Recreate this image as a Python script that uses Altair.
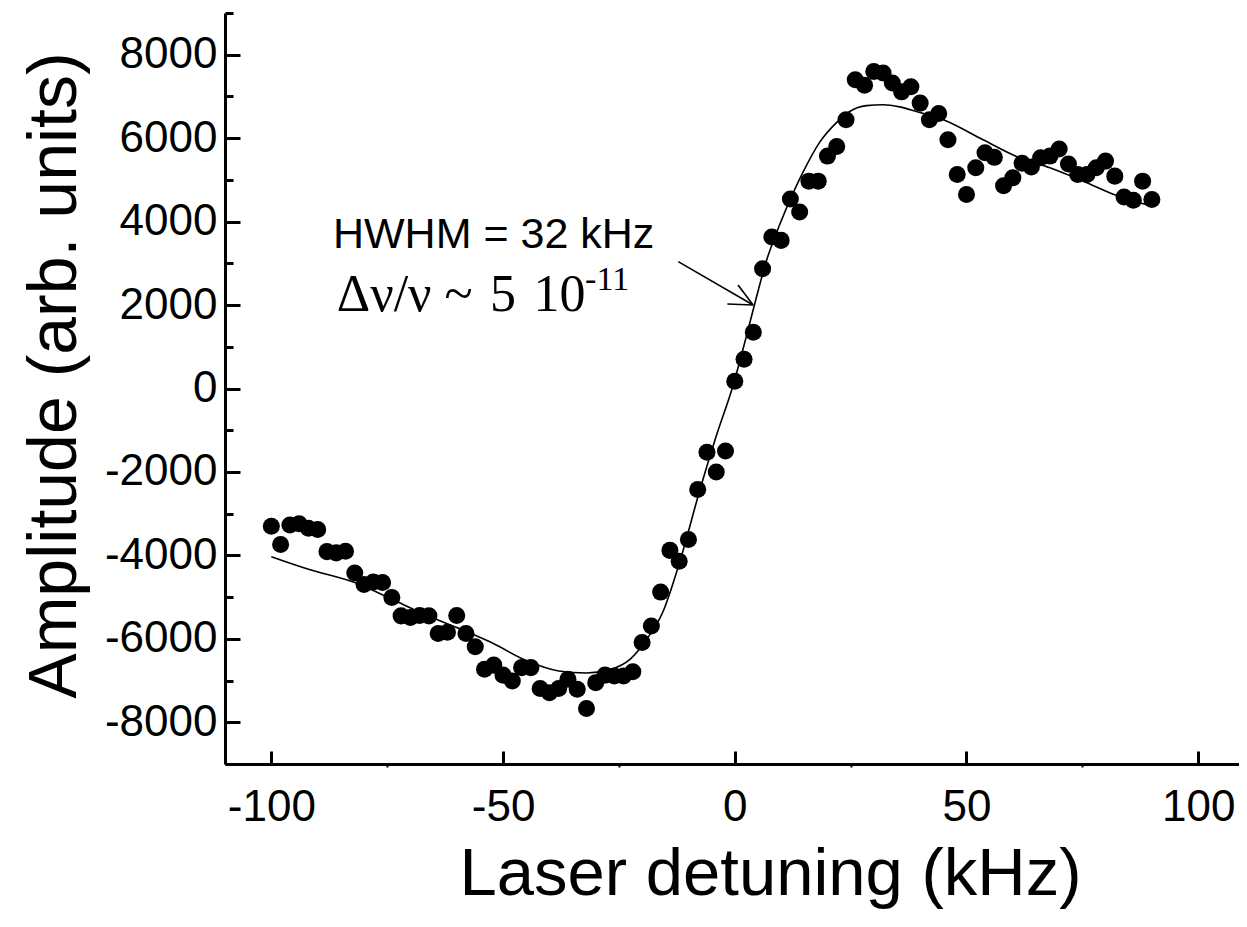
import altair as alt
import pandas as pd

# ---------------- data ----------------
detuning = [-100, -98, -96, -94, -92, -90, -88, -86, -84, -82,
            -80, -78, -76, -74, -72, -70, -68, -66, -64, -62,
            -60, -58, -56, -54, -52, -50, -48, -46, -44, -42,
            -40, -38, -36, -34, -32, -30, -28, -26, -24, -22,
            -20, -18, -16, -14, -12, -10, -8, -6, -4, -2,
            0, 2, 4, 6, 8, 10, 12, 14, 16, 18,
            20, 22, 24, 26, 28, 30, 32, 34, 36, 38,
            40, 42, 44, 46, 48, 50, 52, 54, 56, 58,
            60, 62, 64, 66, 68, 70, 72, 74, 76, 78,
            80, 82, 84, 86, 88, 90]
amplitude = [-3300, -3740, -3270, -3240, -3350, -3380, -3910, -3940, -3900, -4420,
             -4700, -4640, -4650, -5010, -5450, -5490, -5440, -5450, -5870, -5840,
             -5440, -5870, -6190, -6730, -6630, -6870, -7010, -6690, -6690, -7190,
             -7290, -7190, -6970, -7210, -7670, -7050, -6870, -6890, -6890, -6790,
             -6090, -5690, -4880, -3880, -4140, -3620, -2420, -1530, -2000, -1500,
             175, 700, 1350, 2870, 3630, 3550, 4540, 4230, 4970, 4970,
             5570, 5800, 6440, 7400, 7270, 7600, 7560, 7320, 7110, 7230,
             6840, 6440, 6590, 5960, 5130, 4650, 5290, 5650, 5540, 4860,
             5050, 5400, 5310, 5530, 5570, 5740, 5380, 5130, 5130, 5290,
             5450, 5090, 4590, 4510, 4970, 4530]

fit_x = [-100, -92, -82, -74, -67, -60, -52.5, -45, -38, -32, -27, -22.5,
         -19, -15.5, -12, -7.5, -4, -0.4, 2.5, 4.7, 6.8, 9.7, 12.6, 14.7,
         18.3, 22, 24.8, 28.4, 32, 35.6, 39.2, 45, 53.6, 60.8, 68, 75.2, 82.3, 90]
fit_y = [-4030, -4330, -4650, -5050, -5410, -5730, -6090, -6520, -6770, -6820, -6740, -6480,
         -6010, -5350, -4200, -2420, -1140, 60, 1250, 2200, 3050, 3930, 4690, 5180,
         5900, 6380, 6640, 6780, 6800, 6750, 6640, 6440, 5960, 5560, 5290, 4970, 4630, 4370]

x_major = [-100, -50, 0, 50, 100]
x_minor = [-75, -25, 25, 75]
y_major = [-8000, -6000, -4000, -2000, 0, 2000, 4000, 6000, 8000]
y_minor = [-9000, -7000, -5000, -3000, -1000, 1000, 3000, 5000, 7000, 9000]

# annotation text and arrow (data coordinates)
label_text = ["HWHM = 32 kHz", "\u0394\u03bd/\u03bd ~\u20045\u200410", "-11"]
label_x = [-86.7, -85.9, -32.3]
label_y = [3367, 1860, 2361]
arrow_x = [-12.2, 3.95, 3.95]
arrow_y = [3040, 2000, 2000]
arrow_x2 = [3.95, 0.7, -1.6]
arrow_y2 = [2000, 2480, 2025]

# ---------------- chart ----------------
W, H = 1014, 751
SANS = "Liberation Sans"
SERIF = "Liberation Serif"
xs = alt.Scale(domain=[-110, 108.8], nice=False, zero=False)
ys = alt.Scale(domain=[-9000, 9000], nice=False, zero=False)

fit_df = pd.DataFrame({"cx": fit_x, "cy": fit_y})
pts_df = pd.DataFrame({"px": detuning, "py": amplitude})
arr_df = pd.DataFrame({"ax": arrow_x, "ay": arrow_y, "ax2": arrow_x2, "ay2": arrow_y2})
lab_df = pd.DataFrame({"lx": label_x, "ly": label_y, "txt": label_text})

curve = alt.Chart(fit_df).mark_line(color="black", strokeWidth=1.6, interpolate="monotone").encode(
    x=alt.X("cx:Q", scale=xs, axis=alt.Axis(
        orient="bottom", values=x_major, ticks=False, grid=False,
        labelExpr="'' + datum.value", labelFont=SANS, labelFontSize=44, labelColor="black",
        labelPadding=21, labelFlush=False, labelOverlap=False,
        domainColor="black", domainWidth=3,
        title="Laser detuning (kHz)", titleFont=SANS, titleFontSize=67, titleFontWeight="normal",
        titleColor="black", titleX=545, titleY=130, titleAlign="center", titleBaseline="alphabetic")),
    y=alt.Y("cy:Q", scale=ys, axis=alt.Axis(
        orient="left", values=y_major, ticks=False, grid=False,
        labelExpr="'' + datum.value", labelFont=SANS, labelFontSize=44, labelColor="black",
        labelPadding=8, labelFlush=False, labelOverlap=False,
        domainColor="black", domainWidth=3,
        title="Amplitude (arb. units)", titleFont=SANS, titleFontSize=68, titleFontWeight="normal",
        titleColor="black", titleX=-150, titleY=362, titleAngle=270, titleAlign="center",
        titleBaseline="alphabetic")),
)

points = alt.Chart(pts_df).mark_circle(size=290, color="black", opacity=1).encode(
    x=alt.X("px:Q", scale=xs, axis=alt.Axis(
        orient="top", offset=-H, values=x_major, ticks=True, tickSize=13, tickWidth=3,
        tickColor="black", labels=False, domain=False, grid=False, title=None)),
    y=alt.Y("py:Q", scale=ys, axis=alt.Axis(
        orient="right", offset=-W, values=y_major, ticks=True, tickSize=15, tickWidth=3,
        tickColor="black", labels=False, domain=False, grid=False, title=None)),
)

arrow = alt.Chart(arr_df).mark_rule(color="black", strokeWidth=1.6).encode(
    x=alt.X("ax:Q", scale=xs, axis=alt.Axis(
        orient="bottom", values=x_minor, ticks=True, tickSize=3, tickWidth=2,
        tickColor="black", labels=False, domain=False, grid=False, title=None)),
    y=alt.Y("ay:Q", scale=ys, axis=alt.Axis(
        orient="right", offset=-W, values=y_minor, ticks=True, tickSize=8, tickWidth=3,
        tickColor="black", labels=False, domain=False, grid=False, title=None)),
    x2="ax2:Q",
    y2="ay2:Q",
)

lab_sans = alt.Chart(lab_df).transform_filter("datum.txt == 'HWHM = 32 kHz'").mark_text(
    font=SANS, fontSize=43, align="left", baseline="alphabetic", color="black").encode(
    x=alt.X("lx:Q", scale=xs, axis=None), y=alt.Y("ly:Q", scale=ys, axis=None), text="txt:N")

lab_serif = alt.Chart(lab_df).transform_filter("datum.txt != 'HWHM = 32 kHz' && datum.txt != '-11'").mark_text(
    font=SERIF, fontSize=52, align="left", baseline="alphabetic", color="black").encode(
    x=alt.X("lx:Q", scale=xs, axis=None), y=alt.Y("ly:Q", scale=ys, axis=None), text="txt:N")

lab_sup = alt.Chart(lab_df).transform_filter("datum.txt == '-11'").mark_text(
    font=SERIF, fontSize=34, align="left", baseline="alphabetic", color="black").encode(
    x=alt.X("lx:Q", scale=xs, axis=None), y=alt.Y("ly:Q", scale=ys, axis=None), text="txt:N")

chart = alt.layer(curve, points, arrow, lab_sans, lab_serif, lab_sup).resolve_axis(
    x="independent", y="independent"
).properties(
    width=W, height=H,
    autosize=alt.AutoSizeParams(type="none"),
    padding={"left": 217, "top": 5, "right": 0, "bottom": 153},
    background="white",
).configure_view(stroke=None)

chart.save("out.html", embed_options={"renderer": "svg", "actions": False})
